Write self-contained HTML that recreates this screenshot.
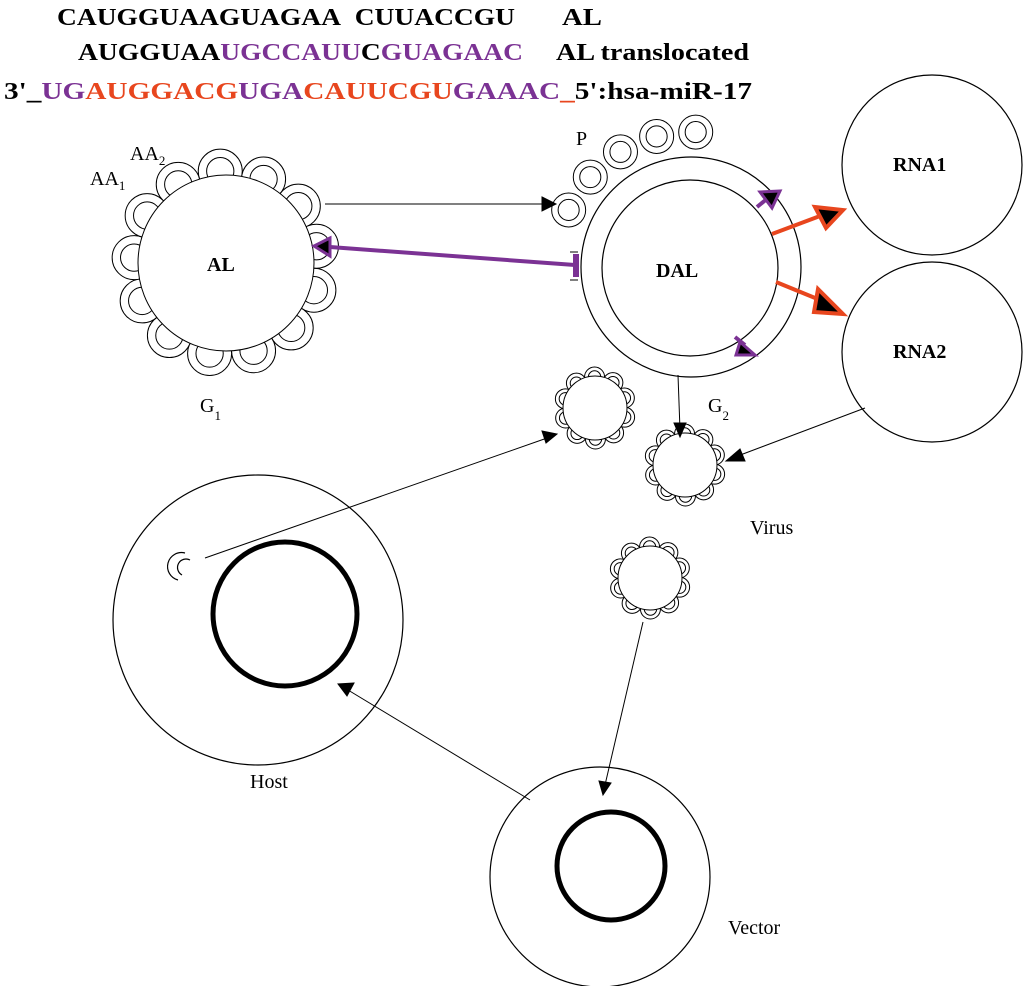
<!DOCTYPE html>
<html><head><meta charset="utf-8"><style>
html,body{margin:0;padding:0;background:#fff;width:1024px;height:986px;overflow:hidden}
svg{display:block}
text{font-family:"Liberation Serif",serif}
</style></head><body>
<svg id="s" width="1024" height="986" viewBox="0 0 1024 986" xmlns="http://www.w3.org/2000/svg">
<g font-weight="bold" font-size="24">
<text x="57" y="25" fill="#000" textLength="458" lengthAdjust="spacingAndGlyphs">CAUGGUAAGUAGAA&#160;&#160;CUUACCGU</text>
<text x="562" y="25" fill="#000" textLength="40" lengthAdjust="spacingAndGlyphs">AL</text>
<text x="78" y="60" textLength="445" lengthAdjust="spacingAndGlyphs"><tspan fill="#000">AUGGUAA</tspan><tspan fill="#7b3294">UGCCAUU</tspan><tspan fill="#000">C</tspan><tspan fill="#7b3294">GUAGAAC</tspan></text>
<text x="556" y="60" fill="#000" textLength="193" lengthAdjust="spacingAndGlyphs">AL translocated</text>
<text x="4" y="99" textLength="748" lengthAdjust="spacingAndGlyphs"><tspan fill="#000">3'_</tspan><tspan fill="#7b3294">UG</tspan><tspan fill="#e8461e">AUGGACG</tspan><tspan fill="#7b3294">UGA</tspan><tspan fill="#e8461e">CAUUCGU</tspan><tspan fill="#7b3294">GAAAC</tspan><tspan fill="#e8461e">_</tspan><tspan fill="#000">5':hsa-miR-17</tspan></text>
</g>
<g fill="none" stroke="#000" stroke-width="1.2">
<circle cx="691" cy="267" r="110" fill="#fff"/>
<circle cx="690" cy="268" r="88"/>
<circle cx="932" cy="165" r="90"/>
<circle cx="932" cy="352" r="90"/>
<circle cx="258" cy="620" r="145"/>
<circle cx="285" cy="614" r="72" stroke-width="5"/>
<circle cx="600" cy="877" r="110"/>
<circle cx="611" cy="866" r="54" stroke-width="5"/>
<path d="M185,553 A12,12 0 0 0 178,580 M190,560 A8,8 0 0 0 182,575"/>
</g>
<g id="bumps" fill="#fff" stroke="#000" stroke-width="1"></g>
<g stroke="#000" stroke-width="1" fill="none">
<line x1="325" y1="204" x2="550" y2="204"/>
<path d="M542,197 L556,204 L542,211z" fill="#000"/>
<line x1="678" y1="375" x2="680" y2="430"/>
<path d="M674,423 L680,437 L686,423z" fill="#000"/>
<line x1="865" y1="408" x2="735" y2="457"/>
<path d="M740,449 L726,461 L745,461z" fill="#000"/>
<line x1="205" y1="558" x2="550" y2="437"/>
<path d="M542,431 L557,434 L546,443z" fill="#000"/>
<line x1="643" y1="622" x2="605" y2="785"/>
<path d="M599,781 L603,795 L611,783z" fill="#000"/>
<line x1="530" y1="800" x2="348" y2="690"/>
<path d="M354,683 L338,684 L347,696z" fill="#000"/>
<line x1="570" y1="252" x2="578" y2="252"/><line x1="570" y1="280" x2="578" y2="280"/>
</g>
<g stroke="#7b3294" stroke-width="4" fill="none">
<line x1="575" y1="265" x2="330" y2="247"/>
<path d="M330,238 L314,246 L330,256z" fill="#000" stroke-width="3"/>
<line x1="576" y1="254" x2="576" y2="277" stroke-width="6"/>
<line x1="757" y1="207" x2="768" y2="198"/>
<path d="M760,192 L780,191 L772,208z" fill="#000" stroke-width="3"/>
<line x1="735" y1="337" x2="745" y2="345"/>
<path d="M740,342 L755,355 L736,355z" fill="#000" stroke-width="3"/>
</g>
<g stroke="#e8461e" stroke-width="4" fill="none">
<line x1="772" y1="234" x2="820" y2="216"/>
<path d="M815,207 L843,210 L826,228z" fill="#000" stroke-width="4"/>
<line x1="776" y1="282" x2="820" y2="300"/>
<path d="M818,289 L843,314 L814,312z" fill="#000" stroke-width="4"/>
</g>
<g font-size="20" fill="#000">
<text x="207" y="271" font-weight="bold">AL</text>
<text x="656" y="277" font-weight="bold">DAL</text>
<text x="893" y="171" font-weight="bold">RNA1</text>
<text x="893" y="358" font-weight="bold">RNA2</text>
<text x="130" y="160">AA<tspan font-size="13" dy="5">2</tspan></text>
<text x="90" y="185">AA<tspan font-size="13" dy="5">1</tspan></text>
<text x="576" y="145">P</text>
<text x="200" y="412">G<tspan font-size="13" dy="8">1</tspan></text>
<text x="708" y="412">G<tspan font-size="13" dy="8">2</tspan></text>
<text x="750" y="534">Virus</text>
<text x="250" y="788">Host</text>
<text x="728" y="934">Vector</text>
</g>
</svg>
<script>
var g=document.getElementById('bumps'),ns='http://www.w3.org/2000/svg';
function C(x,y,r,f){var c=document.createElementNS(ns,'circle');c.setAttribute('cx',x);c.setAttribute('cy',y);c.setAttribute('r',r);if(f)c.setAttribute('fill',f);g.appendChild(c);}
function ring(cx,cy,R,n,br,inner,a0,a1){
 a0=a0||0;a1=(a1===undefined)?2*Math.PI:a1;var full=(a1-a0)>=6.28;
 var m=full?n:n+1,off=full?0.3:0,i,a;
 for(i=0;i<m;i++){a=a0+i/n*(a1-a0)+off;C(cx+R*Math.cos(a),cy+R*Math.sin(a),br);}
 for(i=0;i<m;i++){a=a0+i/n*(a1-a0)+off;C(cx+R*Math.cos(a),cy+R*Math.sin(a),br*0.62,'none');}
 if(inner)C(cx,cy,inner);
}
ring(226,263,92,13,22,88);
ring(691,267,135,4,17,0,205*Math.PI/180,272*Math.PI/180);
ring(595,408,31,10,10,32);
ring(685,465,31,10,10,32);
ring(650,578,31,10,10,32);
</script>
</body></html>
